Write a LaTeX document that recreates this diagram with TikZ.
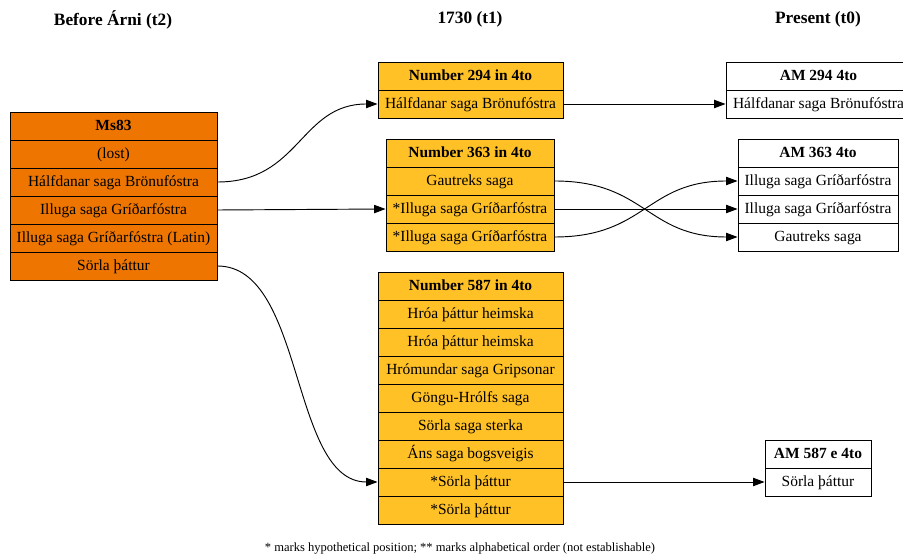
\documentclass[tikz,border=0pt]{standalone}
\usepackage{fontspec}
\setmainfont{Liberation Serif}
\usetikzlibrary{arrows.meta}
\definecolor{msorange}{RGB}{238,118,0}
\definecolor{msgold}{RGB}{255,193,37}
\tikzset{
  cell/.style={draw=black, line width=0.7pt, minimum height=21pt, inner sep=0pt,
    text height=10pt, text depth=2.6pt,
    font=\fontsize{11.6pt}{13pt}\selectfont},
  head/.style={cell, font=\fontsize{11.6pt}{13pt}\selectfont\bfseries},
  lost/.style={fill=msorange},
  gold/.style={fill=msgold},
  plain/.style={fill=white},
  coltitle/.style={font=\fontsize{13pt}{15pt}\selectfont\bfseries},
  link/.style={line width=0.7pt, -{Triangle[length=8.5pt,width=6.2pt]}},
}
\begin{document}
\begin{tikzpicture}[x=0.75pt,y=-0.75pt]
\useasboundingbox (0,0) rectangle (903,559);

% column titles
\node[coltitle] (tleft) at (113,19.5) {Before Árni (t2)};
\node[coltitle] (tmid) at (470,19.5) {1730 (t1)};
\node[coltitle] (tright) at (818,19.5) {Present (t0)};

% t2: Ms83
\begin{scope}[every node/.append style={minimum width=155.25pt, lost}]
\node[head] (m0) at (113.5,126) {Ms83};
\node[cell] (m1) at (113.5,154) {(lost)};
\node[cell] (m2) at (113.5,182) {Hálfdanar saga Brönufóstra};
\node[cell] (m3) at (113.5,210) {Illuga saga Gríðarfóstra};
\node[cell] (m4) at (113.5,238) {Illuga saga Gríðarfóstra (Latin)};
\node[cell] (m5) at (113.5,266) {Sörla þáttur};
\end{scope}

% t1: Number 294
\begin{scope}[every node/.append style={minimum width=138.75pt, gold}]
\node[head] (a0) at (470.5,76) {Number 294 in 4to};
\node[cell] (a1) at (470.5,104) {Hálfdanar saga Brönufóstra};
\end{scope}

% t1: Number 363
\begin{scope}[every node/.append style={minimum width=126pt, gold}]
\node[head] (b0) at (470,153) {Number 363 in 4to};
\node[cell] (b1) at (470,181) {Gautreks saga};
\node[cell] (b2) at (470,209) {*Illuga saga Gríðarfóstra};
\node[cell] (b3) at (470,237) {*Illuga saga Gríðarfóstra};
\end{scope}

% t1: Number 587
\begin{scope}[every node/.append style={minimum width=138.75pt, gold}]
\node[head] (c0) at (470.5,286) {Number 587 in 4to};
\node[cell] (c1) at (470.5,314) {Hróa þáttur heimska};
\node[cell] (c2) at (470.5,342) {Hróa þáttur heimska};
\node[cell] (c3) at (470.5,370) {Hrómundar saga Gripsonar};
\node[cell] (c4) at (470.5,398) {Göngu-Hrólfs saga};
\node[cell] (c5) at (470.5,426) {Sörla saga sterka};
\node[cell] (c6) at (470.5,454) {Áns saga bogsveigis};
\node[cell] (c7) at (470.5,482) {*Sörla þáttur};
\node[cell] (c8) at (470.5,510) {*Sörla þáttur};
\end{scope}

% t0: AM 294 4to
\begin{scope}[every node/.append style={minimum width=138.75pt, plain}]
\node[head] (d0) at (818.5,76) {AM 294 4to};
\node[cell] (d1) at (818.5,104) {Hálfdanar saga Brönufóstra};
\end{scope}

% t0: AM 363 4to
\begin{scope}[every node/.append style={minimum width=120pt, plain}]
\node[head] (e0) at (818,153) {AM 363 4to};
\node[cell] (e1) at (818,181) {Illuga saga Gríðarfóstra};
\node[cell] (e2) at (818,209) {Illuga saga Gríðarfóstra};
\node[cell] (e3) at (818,237) {Gautreks saga};
\end{scope}

% t0: AM 587 e 4to
\begin{scope}[every node/.append style={minimum width=79.5pt, plain}]
\node[head] (f0) at (818,454) {AM 587 e 4to};
\node[cell] (f1) at (818,482) {Sörla þáttur};
\end{scope}

% t2 -> t1
\draw[link] (m2.east) .. controls (300,182) and (300,104) .. (a1.west);
\draw[link] (m3.east) -- (b2.west);
\draw[link] (m5.east) .. controls (305,266) and (290,482) .. (c7.west);

% t1 -> t0
\draw[link] (a1.east) -- (d1.west);
\draw[link] (b1.east) .. controls (646,181) and (646,237) .. (e3.west);
\draw[link] (b2.east) -- (e2.west);
\draw[link] (b3.east) .. controls (646,237) and (646,181) .. (e1.west);
\draw[link] (c7.east) -- (f1.west);

% footnote
\node[font=\fontsize{9.4pt}{11pt}\selectfont] (note) at (460,549)
  {* marks hypothetical position; ** marks alphabetical order (not establishable)};
\end{tikzpicture}
\end{document}
